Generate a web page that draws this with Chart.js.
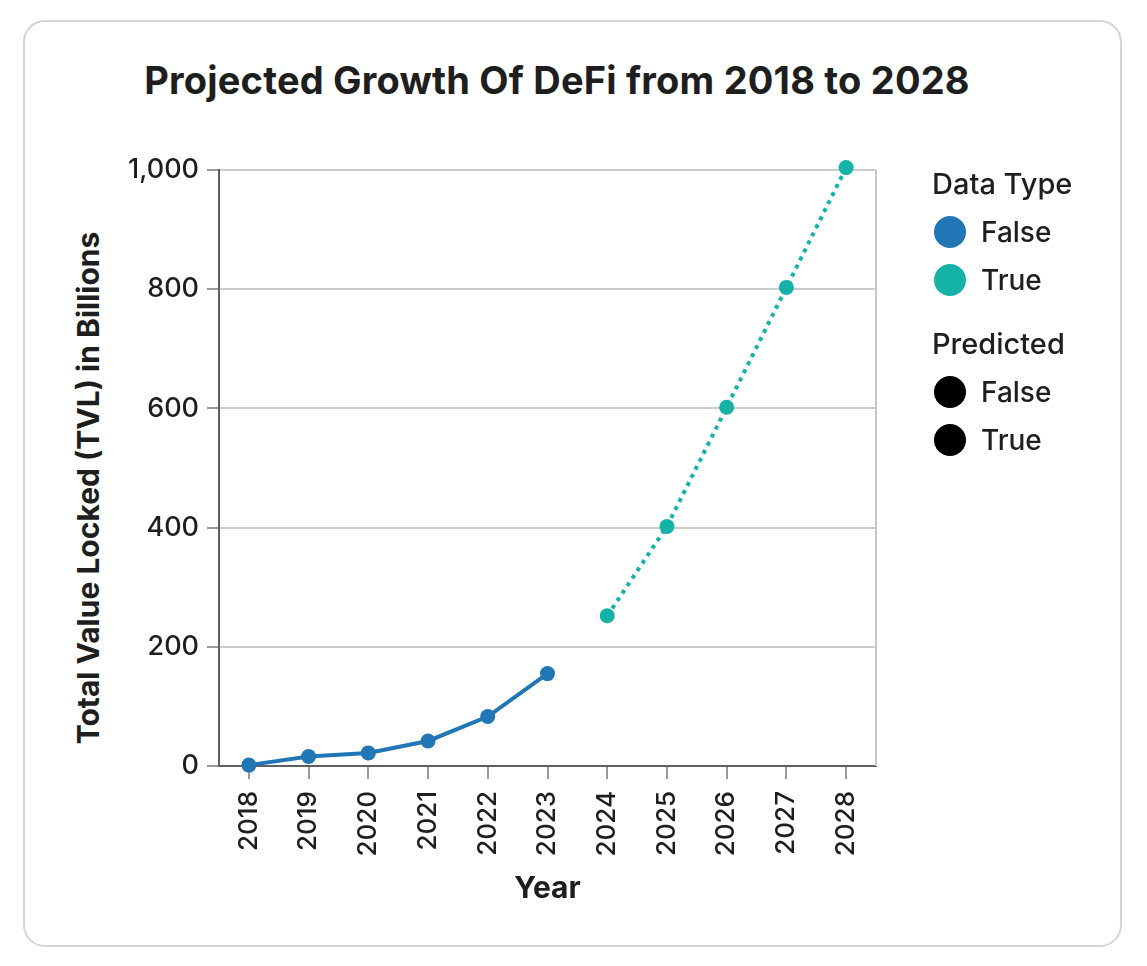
<!DOCTYPE html>
<html>
<head>
<meta charset="utf-8">
<script src="https://cdn.jsdelivr.net/npm/chart.js@4/dist/chart.umd.min.js"></script>
<style>
  html, body { margin: 0; padding: 0; background: #ffffff; }
  body { width: 1147px; height: 966px; position: relative; overflow: hidden; font-family: "Inter", "Lato", sans-serif; color: #1e1e1e; }
  #card { position: absolute; left: 23px; top: 20px; width: 1099px; height: 927px; border: 2px solid #d4d4d4; border-radius: 22px; box-sizing: border-box; }
  #title { position: absolute; left: 0; width: 1114px; top: 56px; text-align: center; font-size: 38px; font-weight: 700; line-height: 48px; color: #1e1e1e; letter-spacing: 0.2px; }
  #chart { position: absolute; left: 0; top: 0; }
  #ytitle { position: absolute; left: -212px; width: 600px; top: 470px; height: 36px; line-height: 36px; text-align: center; font-size: 30px; font-weight: 700; color: #1e1e1e; transform: rotate(-90deg); transform-origin: 50% 50%; white-space: nowrap; }
  .lg-title { position: absolute; left: 932px; font-size: 29px; font-weight: 500; line-height: 36px; color: #1e1e1e; }
  .lg-item { position: absolute; left: 934px; height: 32px; font-size: 28px; line-height: 32px; font-weight: 500; color: #1e1e1e; }
  .lg-dot { position: absolute; left: 0; top: 0; width: 32px; height: 32px; border-radius: 50%; }
  .lg-text { position: absolute; left: 47px; top: 0; white-space: nowrap; }
</style>
</head>
<body>
<div id="card"></div>
<div id="title"></div>
<div id="ytitle"></div>
<canvas id="chart" width="1147" height="966"></canvas>
<div id="legend"></div>
<script>
// ---- data ----
const chartTitle = "Projected Growth Of DeFi from 2018 to 2028";
const years = ["2018","2019","2020","2021","2022","2023","2024","2025","2026","2027","2028"];
const historicalTVL = [1.5, 16, 22, 42, 83, 155, null, null, null, null, null];
const predictedTVL  = [null, null, null, null, null, null, 252, 402, 602, 803, 1004];
const yTicks = [0, 200, 400, 600, 800, 1000];
const xAxisTitle = "Year";
const yAxisTitle = "Total Value Locked (TVL) in Billions";
const legendGroup1Title = "Data Type";
const legendGroup1Labels = ["False", "True"];
const legendGroup2Title = "Predicted";
const legendGroup2Labels = ["False", "True"];

// ---- styles ----
const BLUE = "#2176b6";
const TEAL = "#14b2a7";
const FONT = "Inter, Lato, sans-serif";

document.getElementById("title").textContent = chartTitle;
document.getElementById("ytitle").textContent = yAxisTitle;

// legend (HTML)
const legendEl = document.getElementById("legend");
function addTitle(text, cy) {
  const d = document.createElement("div");
  d.className = "lg-title"; d.textContent = text; d.style.top = (cy - 18) + "px";
  legendEl.appendChild(d);
}
function addItem(text, color, cy) {
  const d = document.createElement("div");
  d.className = "lg-item"; d.style.top = (cy - 16) + "px";
  const dot = document.createElement("div"); dot.className = "lg-dot"; dot.style.background = color;
  const t = document.createElement("div"); t.className = "lg-text"; t.textContent = text;
  d.appendChild(dot); d.appendChild(t); legendEl.appendChild(d);
}
addTitle(legendGroup1Title, 184);
addItem(legendGroup1Labels[0], BLUE, 232);
addItem(legendGroup1Labels[1], TEAL, 280);
addTitle(legendGroup2Title, 344);
addItem(legendGroup2Labels[0], "#000000", 392);
addItem(legendGroup2Labels[1], "#000000", 440);

const frameRight = {
  id: "frameRight",
  afterDraw(chart) {
    const {ctx, chartArea} = chart;
    ctx.save();
    ctx.strokeStyle = "#c8c8c8";
    ctx.lineWidth = 2;
    ctx.beginPath();
    ctx.moveTo(chartArea.right, chartArea.top);
    ctx.lineTo(chartArea.right, chartArea.bottom);
    ctx.stroke();
    ctx.restore();
  }
};

new Chart(document.getElementById("chart"), {
  type: "line",
  data: {
    labels: years,
    datasets: [
      {
        label: "Historical",
        data: historicalTVL,
        borderColor: BLUE,
        backgroundColor: BLUE,
        borderWidth: 4,
        pointRadius: 7.5,
        pointBorderWidth: 0,
        pointBackgroundColor: BLUE,
        tension: 0,
        clip: false,
        spanGaps: false
      },
      {
        label: "Predicted",
        data: predictedTVL,
        borderColor: TEAL,
        backgroundColor: TEAL,
        borderWidth: 4,
        borderDash: [4, 5],
        pointRadius: 7.5,
        pointBorderWidth: 0,
        pointBackgroundColor: TEAL,
        tension: 0,
        clip: false,
        spanGaps: false
      }
    ]
  },
  options: {
    responsive: false,
    devicePixelRatio: 1,
    animation: false,
    events: [],
    layout: { padding: { left: 60, top: 170, right: 271, bottom: 40 } },
    plugins: { legend: { display: false }, tooltip: { enabled: false }, title: { display: false } },
    scales: {
      x: {
        type: "category",
        offset: true,
        grid: { offset: false, drawOnChartArea: false, drawTicks: true, tickLength: 13, tickColor: "#9a9a9a", lineWidth: 2 },
        border: { display: true, color: "#5f5f5f", width: 2 },
        ticks: { autoSkip: false, maxRotation: 90, minRotation: 90, padding: 12, color: "#1e1e1e", font: { family: FONT, size: 26, weight: 500 } },
        title: { display: true, text: xAxisTitle, color: "#1e1e1e", font: { family: FONT, size: 30, weight: 700 }, padding: { top: 0, bottom: 19 } },
        afterFit(scale) { scale.height = 160; }
      },
      y: {
        min: 0,
        max: 1000,
        afterBuildTicks(scale) { scale.ticks = yTicks.map(v => ({ value: v })); },
        grid: { color: "#cccccc", lineWidth: 2, drawTicks: true, tickLength: 12, tickColor: "#9a9a9a" },
        border: { display: true, color: "#5f5f5f", width: 2 },
        ticks: { padding: 8, color: "#1e1e1e", font: { family: FONT, size: 27, weight: 500 },
                 callback: v => v.toLocaleString("en-US") },
        title: { display: false },
        afterFit(scale) { scale.width = 159; }
      }
    }
  },
  plugins: [frameRight]
});
</script>
</body>
</html>
